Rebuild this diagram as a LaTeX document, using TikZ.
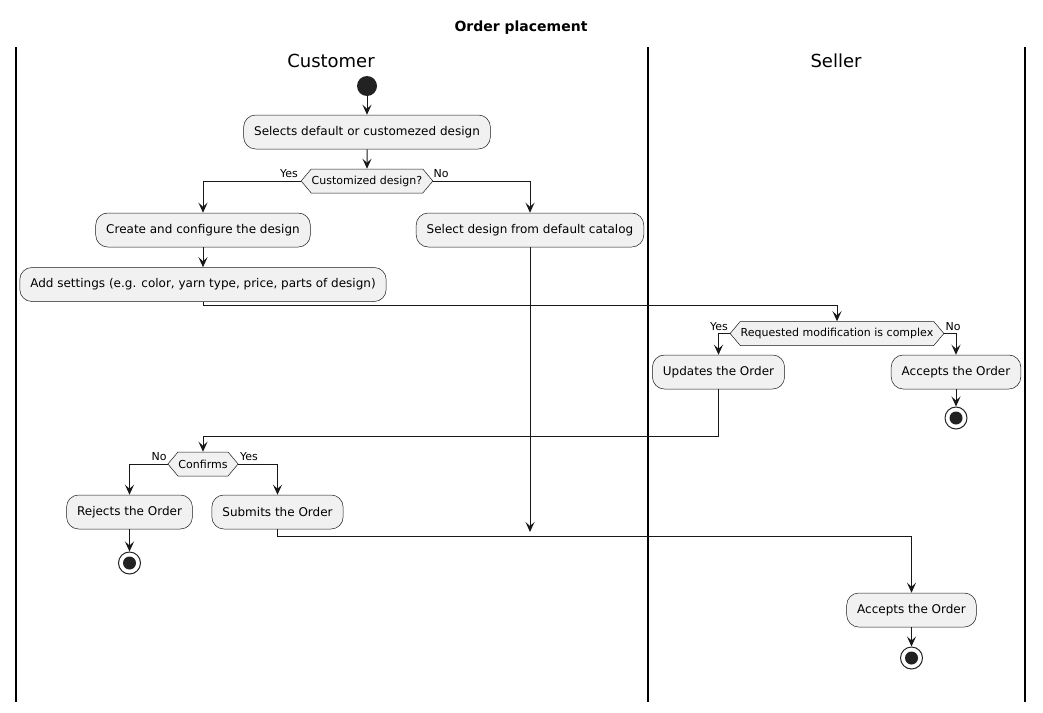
\documentclass[tikz,border=0pt]{standalone}
\usepackage{fontspec}
\setmainfont{DejaVu Sans}
\usetikzlibrary{arrows.meta,shapes.symbols}
\definecolor{boxfill}{HTML}{F1F1F1}
\definecolor{ink}{HTML}{181818}
\definecolor{dotc}{HTML}{222222}
\tikzset{
  act/.style={draw=ink, line width=0.5pt, fill=boxfill, rounded corners=12pt,
    minimum height=34pt, inner xsep=10.5pt, inner ysep=0pt,
    font=\fontsize{12}{14}\selectfont, text=black},
  dec/.style={shape=signal, signal to=west and east, signal pointer angle=100,
    draw=ink, line width=0.5pt, fill=boxfill, minimum height=24pt,
    inner xsep=0.5pt, inner ysep=0pt, font=\fontsize{11}{13}\selectfont},
  lbl/.style={font=\fontsize{11}{13}\selectfont, inner sep=0pt},
  arr/.style={draw=ink, line width=1pt, -{Stealth[length=10pt,width=9pt,inset=4pt]}},
  startst/.style={circle, fill=dotc, minimum size=20pt, inner sep=0pt},
  endst/.style={circle, draw=dotc, line width=1pt, fill=white, minimum size=22pt, inner sep=0pt,
    path picture={\fill[dotc] (path picture bounding box.center) circle (6.5pt);}},
  lane/.style={draw=black, line width=1.5pt},
  lanetitle/.style={font=\fontsize{18}{21}\selectfont, inner sep=0pt},
}
\begin{document}
\begin{tikzpicture}[x=1pt,y=-1pt]
\useasboundingbox (0,0) rectangle (1043,712);
% title and lanes
\node[font=\fontsize{14}{16}\selectfont\bfseries, inner sep=0pt] (title) at (521,28) {Order placement};
\coordinate (l1t) at (16,47);  \coordinate (l1b) at (16,702);
\coordinate (l2t) at (648,47); \coordinate (l2b) at (648,702);
\coordinate (l3t) at (1025,47);\coordinate (l3b) at (1025,702);
\draw[lane] (l1t) -- (l1b);
\draw[lane] (l2t) -- (l2b);
\draw[lane] (l3t) -- (l3b);
\node[lanetitle] (cust) at (331,61) {Customer};
\node[lanetitle] (sell) at (836,61) {Seller};
% nodes
\node[startst] (st) at (367,86) {};
\node[act] (sel) at (367,132) {Selects default or customezed design};
\node[dec] (d1) at (367,181) {Customized design?};
\node[act] (create) at (203,230) {Create and configure the design};
\node[act] (cat) at (530,230) {Select design from default catalog};
\node[act] (add) at (203,284.5) {Add settings (e.g. color, yarn type, price, parts of design)};
\node[dec] (d2) at (837,333.5) {Requested modification is complex};
\node[act] (upd) at (718.5,372) {Updates the Order};
\node[act] (acc1) at (956,372) {Accepts the Order};
\node[endst] (e1) at (956,418) {};
\node[dec] (conf) at (203,464) {Confirms};
\node[act] (rej) at (129.5,512) {Rejects the Order};
\node[act] (sub) at (277.5,512) {Submits the Order};
\node[endst] (e2) at (129.5,563) {};
\node[act] (acc2) at (911.5,610) {Accepts the Order};
\node[endst] (e3) at (911.5,658) {};
\coordinate (merge) at (530,532);
% labels
\node[lbl] (y1) at (289,174) {Yes};
\node[lbl] (n1) at (441,174) {No};
\node[lbl] (y2) at (719,327) {Yes};
\node[lbl] (n2) at (953,327) {No};
\node[lbl] (n3) at (159,457) {No};
\node[lbl] (y3) at (249,457) {Yes};
% connectors
\draw[arr] (st) -- (sel);
\draw[arr] (sel) -- (d1);
\draw[arr] (d1.west) -| (create.north);
\draw[arr] (d1.east) -| (cat.north);
\draw[arr] (create) -- (add);
\draw[arr] (add.south) -- ++(0,4) -| (d2.north);
\draw[arr] (cat.south) -- (merge);
\draw[arr] (d2.west) -| (upd.north);
\draw[arr] (d2.east) -| (acc1.north);
\draw[arr] (acc1) -- (e1);
\draw[arr] (upd.south) -- ++(0,47) -| (conf.north);
\draw[arr] (conf.west) -| (rej.north);
\draw[arr] (conf.east) -| (sub.north);
\draw[arr] (rej) -- (e2);
\draw[arr] (sub.south) -- ++(0,7) -| (acc2.north);
\draw[arr] (acc2) -- (e3);
\end{tikzpicture}
\end{document}
